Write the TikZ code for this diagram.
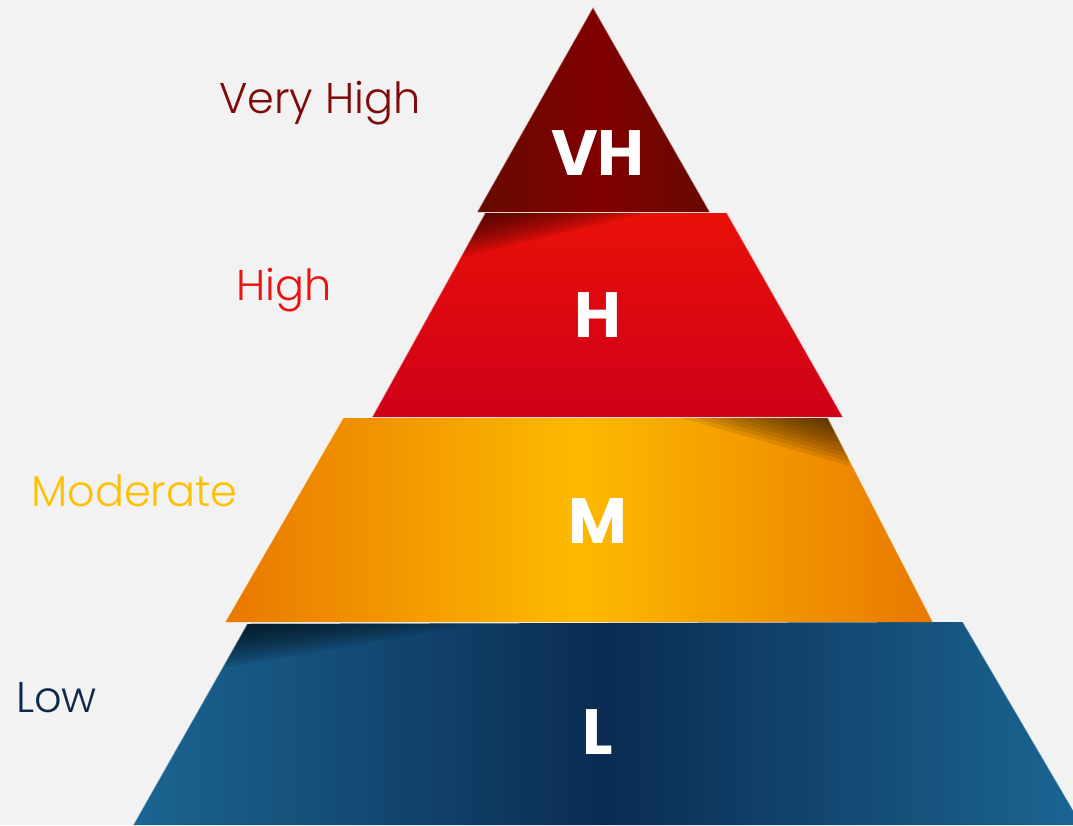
\documentclass[tikz,border=0pt]{standalone}
\usepackage{fontspec}
\setmainfont{Poppins}
\newfontfamily\labelfont{Poppins Light}
\usetikzlibrary{calc}
\definecolor{bg}{HTML}{F2F2F2}
\definecolor{VHmid}{HTML}{800000}
\definecolor{VHside}{HTML}{660A00}
\definecolor{Htop}{HTML}{E81008}
\definecolor{Hbot}{HTML}{CF0019}
\definecolor{Mmid}{HTML}{FDBA00}
\definecolor{Mside}{HTML}{E97800}
\definecolor{Lmid}{HTML}{0A2C52}
\definecolor{Lside}{HTML}{1B6592}
\definecolor{cVH}{HTML}{7F0A0A}
\definecolor{cH}{HTML}{EE1111}
\definecolor{cM}{HTML}{FFC000}
\definecolor{cL}{HTML}{0E2A4A}
\newcommand{\softshadow}[4]{%
  \foreach \s in {1,0.92,0.84,0.76,0.68,0.60,0.52,0.44,0.36,0.28,0.20}{%
    \fill[#4, fill opacity=0.1] (#1) -- ($(#1)!\s!(#2)$) -- ($(#1)!\s!(#3)$) -- cycle;
  }%
}
\tikzset{
  sidelabel/.style={anchor=base west, inner sep=0pt, font=\labelfont\fontsize{43}{43}\selectfont},
  letter/.style={anchor=base, inner sep=0pt, text=white, font=\fontsize{64}{64}\selectfont\bfseries},
  rim/.style={draw=white, draw opacity=0.55, line width=1.2pt}
}
\begin{document}
\begin{tikzpicture}[x=1pt,y=-1pt]
\fill[bg] (0,0) rectangle (1073,825);
\useasboundingbox (0,0) rectangle (1073,825);

% Low layer
\begin{scope}
\clip (133,825) -- (247,624) -- (963,622) -- (1082,825) -- cycle;
\shade[left color=Lside, right color=Lside, middle color=Lmid] (133,622) rectangle (1075,825);
\softshadow{238,618}{510,618}{222,668}{black!85!Lmid}
\end{scope}
\draw[rim] (133,825) -- (247,624);
\draw[rim] (963,622) -- (1082,825);

% Moderate layer
\begin{scope}
\clip (225,622) -- (343,418) -- (828,418) -- (933,622) -- cycle;
\shade[left color=Mside, right color=Mside, middle color=Mmid] (225,418) rectangle (933,622);
\softshadow{838,412}{660,412}{850,466}{black!85!Mside}
\end{scope}
\draw[rim] (225,622) -- (343,418);
\draw[rim] (828,418) -- (933,622);

% High layer
\begin{scope}
\clip (372,417) -- (485,213) -- (727,213) -- (843,417) -- cycle;
\shade[top color=Htop, bottom color=Hbot] (372,213) rectangle (843,417);
\softshadow{478,207}{670,207}{458,258}{black!70!VHside}
\end{scope}
\draw[rim] (372,417) -- (485,213);
\draw[rim] (727,213) -- (843,417);

% Very High layer
\shade[left color=VHside, right color=VHside, middle color=VHmid] (477,212) -- (593,7) -- (710,212) -- cycle;
\draw[rim] (477,212) -- (593,7) -- (710,212);

% letters
\node[letter] (vh) at (598,175) {VH};
\node[letter] (h) at (598,337) {H};
\node[letter] (m) at (598,543) {M};
\node[letter] (l) at (598,754) {L};

% side labels
\node[sidelabel, text=cVH] (lvh) at (219,113) {Very High};
\node[sidelabel, text=cH] (lh) at (236,300) {High};
\node[sidelabel, text=cM] (lm) at (31,506) {Moderate};
\node[sidelabel, text=cL] (ll) at (16,712) {Low};
\end{tikzpicture}
\end{document}
